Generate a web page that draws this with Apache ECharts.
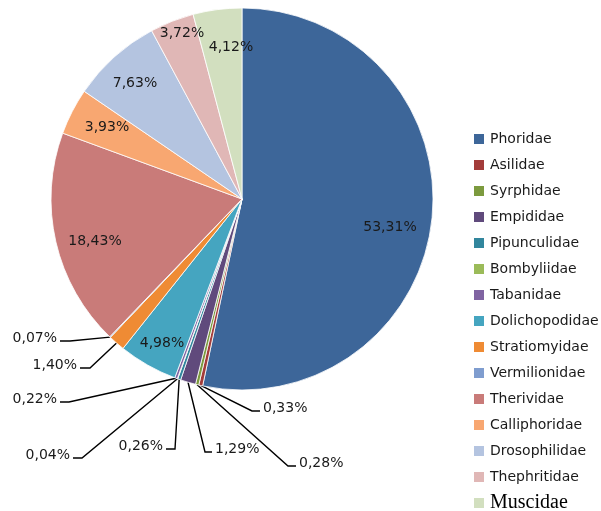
<!DOCTYPE html>
<html><head><meta charset="utf-8">
<script src="https://cdn.jsdelivr.net/npm/echarts@6/dist/echarts.min.js"></script>
<style>html,body{margin:0;padding:0;background:#fff}#c{width:601px;height:511px}</style>
</head><body><div id="c"></div>
<script>
const families = ['Phoridae','Asilidae','Syrphidae','Empididae','Pipunculidae','Bombyliidae','Tabanidae','Dolichopodidae','Stratiomyidae','Vermilionidae','Therividae','Calliphoridae','Drosophilidae','Thephritidae','Muscidae'];
const percents = [53.31, 0.33, 0.28, 1.29, 0.26, 0.04, 0.22, 4.98, 1.40, 0.07, 18.43, 3.93, 7.63, 3.72, 4.12];
const colors = ['#3d6699','#a33c3a','#7c9a3e','#604a7c','#32869d','#9bbb59','#8064a2','#45a5c0','#ef8b34','#7f9dcf','#c97b79','#f8a771','#b4c4e0','#e0b7b6','#d2dfbf'];

// label placement (styling only)
const labelPlacement = {
  Phoridae:      {inside:true, x:390, y:227},
  Dolichopodidae:{inside:true, x:162, y:343},
  Therividae:    {inside:true, x:95,  y:241},
  Calliphoridae: {inside:true, x:107, y:127},
  Drosophilidae: {inside:true, x:135, y:83},
  Thephritidae:  {inside:true, x:182, y:33},
  Muscidae:      {inside:true, x:231, y:47},
  Asilidae:      {x:263, y:408, align:'left',  h:8},
  Syrphidae:     {x:299, y:463, align:'left',  h:8},
  Empididae:     {x:215, y:449, align:'left',  h:7},
  Pipunculidae:  {x:163, y:446, align:'right', h:9},
  Bombyliidae:   {x:70,  y:455, align:'right', h:9},
  Tabanidae:     {x:57,  y:399, align:'right', h:9},
  Stratiomyidae: {x:77,  y:365, align:'right', h:10},
  Vermilionidae: {x:57,  y:338, align:'right', h:10}
};

const CX = 242, CY = 199, R = 191;
const FONT = 'DejaVu Sans';
const fmt = v => v.toFixed(2).replace('.', ',') + '%';

const data = families.map((n, i) => {
  const lp = labelPlacement[n];
  return {
    name: n,
    value: percents[i],
    itemStyle: {color: colors[i]},
    label: {position: lp.inside ? 'inside' : 'outside'},
    labelLine: {show: !lp.inside}
  };
});

// fallback anchor on arc from cumulative data
function arcPoint(idx) {
  const total = percents.reduce((a, b) => a + b, 0);
  let cum = 0;
  for (let i = 0; i < idx; i++) cum += percents[i];
  const mid = (cum + percents[idx] / 2) / total * 2 * Math.PI;
  return [CX + R * Math.sin(mid), CY - R * Math.cos(mid)];
}

const legendBase = {
  orient: 'vertical',
  left: 472,
  padding: 0,
  itemWidth: 12, itemHeight: 12, itemGap: 10,
  icon: 'rect',
  selectedMode: false
};

const chart = echarts.init(document.getElementById('c'), null, {renderer: 'canvas'});
chart.setOption({
  animation: false,
  backgroundColor: '#fff',
  legend: [
    Object.assign({}, legendBase, {
      top: 131,
      textStyle: {fontFamily: FONT, fontSize: 14, color: '#1a1a1a', lineHeight: 16},
      data: families.slice(0, families.length - 1)
    }),
    Object.assign({}, legendBase, {
      top: 493,
      textStyle: {fontFamily: 'Liberation Serif', fontSize: 20, color: '#000', lineHeight: 20},
      data: families.slice(families.length - 1)
    })
  ],
  series: [{
    type: 'pie',
    center: [CX, CY],
    radius: [0, R],
    startAngle: 90,
    clockwise: true,
    avoidLabelOverlap: false,
    minShowLabelAngle: 0,
    itemStyle: {borderColor: '#fff', borderWidth: 0.8},
    emphasis: {disabled: true},
    label: {
      formatter: p => fmt(p.value),
      fontFamily: FONT, fontSize: 14, color: '#1a1a1a'
    },
    labelLine: {lineStyle: {color: '#000', width: 1.4}, length: 15, length2: 10},
    labelLayout: function (p) {
      const name = families[p.dataIndex];
      const lp = labelPlacement[name];
      if (lp.inside) return {x: lp.x, y: lp.y, align: 'center', verticalAlign: 'middle'};
      const gap = 3;
      const edge = lp.align === 'left' ? lp.x - gap : lp.x + gap;
      const bend = lp.align === 'left' ? edge - lp.h : edge + lp.h;
      const ly = lp.y + 3;
      const start = (p.labelLinePoints && p.labelLinePoints[0]) || arcPoint(p.dataIndex);
      return {x: lp.x, y: lp.y, align: lp.align, verticalAlign: 'middle',
              labelLinePoints: [start, [bend, ly], [edge, ly]]};
    },
    data: data
  }]
});
</script></body></html>
